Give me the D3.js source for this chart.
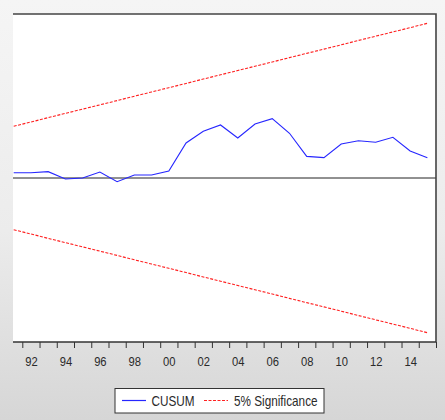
<!DOCTYPE html>
<html>
<head>
<meta charset="utf-8">
<script src="https://cdn.jsdelivr.net/npm/d3@7"></script>
<style>
	body { margin: 0; padding: 0; }
	svg { display: block; }
</style>
</head>
<body>
<svg id="cusum-chart"></svg>
<script>

// data
var years = [1991, 1992, 1993, 1994, 1995, 1996, 1997, 1998, 1999, 2000, 2001, 2002, 2003,
	2004, 2005, 2006, 2007, 2008, 2009, 2010, 2011, 2012, 2013, 2014, 2015];
var cusum = [0.48, 0.48, 0.58, -0.09, 0.0, 0.55, -0.34, 0.27, 0.27, 0.64, 3.20, 4.27, 4.85,
	3.66, 4.94, 5.43, 4.09, 1.98, 1.86, 3.11, 3.41, 3.27, 3.72, 2.47, 1.86];
var upper5 = [4.73, 5.12, 5.52, 5.91, 6.30, 6.69, 7.08, 7.48, 7.87, 8.26, 8.65, 9.05, 9.44,
	9.83, 10.22, 10.61, 11.01, 11.40, 11.79, 12.18, 12.58, 12.97, 13.36, 13.75, 14.15];
var lower5 = [-4.73, -5.12, -5.52, -5.91, -6.30, -6.69, -7.08, -7.48, -7.87, -8.26, -8.65, -9.05, -9.44,
	-9.83, -10.22, -10.61, -11.01, -11.40, -11.79, -12.18, -12.58, -12.97, -13.36, -13.75, -14.15];
var tickYears = [1991.5, 1992.5, 1993.5, 1994.5, 1995.5, 1996.5, 1997.5, 1998.5, 1999.5, 2000.5,
	2001.5, 2002.5, 2003.5, 2004.5, 2005.5, 2006.5, 2007.5, 2008.5, 2009.5, 2010.5, 2011.5,
	2012.5, 2013.5, 2014.5, 2015.5];
var labelYears = [1992, 1994, 1996, 1998, 2000, 2002, 2004, 2006, 2008, 2010, 2012, 2014];
var legendLabels = ["CUSUM", "5% Significance"];

var w = 445;
var h = 420;
var plotLeft = 13, plotRight = 436, plotTop = 14, plotBottom = 342;

var svg = d3.select("#cusum-chart")
	.attr("width", w)
	.attr("height", h)
	.style("font-family", "'Liberation Sans', Arial, sans-serif");

// grey gradient behind everything
var grad = svg.append("defs").append("linearGradient")
	.attr("id", "bg")
	.attr("x1", 0).attr("y1", 0).attr("x2", 0).attr("y2", 1);
grad.append("stop").attr("offset", "0%").attr("stop-color", "#f5f5f5");
grad.append("stop").attr("offset", "55%").attr("stop-color", "#ececec");
grad.append("stop").attr("offset", "100%").attr("stop-color", "#d6d6d6");

svg.append("rect")
	.attr("width", w)
	.attr("height", h)
	.attr("fill", "url(#bg)");

var x = d3.scaleLinear()
	.domain([1991.5, 2015.5])
	.range([22.3, plotRight]);

var y = d3.scaleLinear()
	.domain([-15, 15])
	.range([plotBottom, plotTop]);

// plot area
svg.append("rect")
	.attr("x", plotLeft)
	.attr("y", plotTop)
	.attr("width", plotRight - plotLeft)
	.attr("height", plotBottom - plotTop)
	.attr("fill", "#fff");

// zero line
svg.append("line")
	.attr("x1", plotLeft)
	.attr("x2", plotRight)
	.attr("y1", y(0))
	.attr("y2", y(0))
	.attr("stroke", "#222")
	.attr("stroke-width", 1);

var line = function(values) {
	return d3.line()
		.x(function(d, i) { return x(years[i]); })
		.y(function(d) { return y(d); })(values);
};

svg.append("path")
	.attr("d", line(upper5))
	.attr("fill", "none")
	.attr("stroke", "#ff2020")
	.attr("stroke-width", 1.1)
	.attr("stroke-dasharray", "3,1.5");

svg.append("path")
	.attr("d", line(lower5))
	.attr("fill", "none")
	.attr("stroke", "#ff2020")
	.attr("stroke-width", 1.1)
	.attr("stroke-dasharray", "3,1.5");

svg.append("path")
	.attr("d", line(cusum))
	.attr("fill", "none")
	.attr("stroke", "#2626ff")
	.attr("stroke-width", 1.1);

// frame: top and right
svg.append("path")
	.attr("d", "M" + plotLeft + "," + plotTop + "H" + plotRight + "V" + plotBottom)
	.attr("fill", "none")
	.attr("stroke", "#444")
	.attr("stroke-width", 1.6);

// year ticks
var tickAxis = svg.append("g")
	.attr("transform", "translate(0," + plotBottom + ")")
	.call(d3.axisBottom(x).tickValues(tickYears).tickSize(6).tickFormat(""));
tickAxis.select(".domain").remove();
tickAxis.selectAll("line").attr("stroke", "#333");

var labelAxis = svg.append("g")
	.attr("transform", "translate(0," + plotBottom + ")")
	.call(d3.axisBottom(x).tickValues(labelYears).tickSize(0)
		.tickFormat(function(d) { return d3.format("02d")(d % 100); }));
labelAxis.select(".domain").remove();
labelAxis.selectAll("text")
	.attr("y", 24)
	.attr("dy", 0)
	.attr("transform", "scale(0.83,1)")
	.attr("fill", "#2a2a2a")
	.style("font-size", "13.5px")
	.style("font-family", "'Liberation Sans', Arial, sans-serif");

// axis line
svg.append("line")
	.attr("x1", plotLeft)
	.attr("x2", plotRight)
	.attr("y1", plotBottom)
	.attr("y2", plotBottom)
	.attr("stroke", "#333")
	.attr("stroke-width", 1.4);

// legend
var legend = svg.append("g");
legend.append("rect")
	.attr("x", 115)
	.attr("y", 388.5)
	.attr("width", 209)
	.attr("height", 24.5)
	.attr("fill", "#fff")
	.attr("stroke", "#333")
	.attr("stroke-width", 1);

legend.append("line")
	.attr("x1", 122).attr("x2", 146)
	.attr("y1", 400.5).attr("y2", 400.5)
	.attr("stroke", "#2626ff")
	.attr("stroke-width", 1.2);

legend.append("line")
	.attr("x1", 204).attr("x2", 228)
	.attr("y1", 400.5).attr("y2", 400.5)
	.attr("stroke", "#ff2020")
	.attr("stroke-width", 1)
	.attr("stroke-dasharray", "3,1.5");

legend.selectAll("text.leg")
	.data(legendLabels)
	.enter()
	.append("text")
	.attr("class", "leg")
	.attr("transform", function(d, i) {
		return "translate(" + (i === 0 ? 151.5 : 234) + ",405.5) scale(0.84,1)";
	})
	.attr("fill", "#2a2a2a")
	.style("font-size", "14px")
	.text(function(d) { return d; });

</script>
</body>
</html>
